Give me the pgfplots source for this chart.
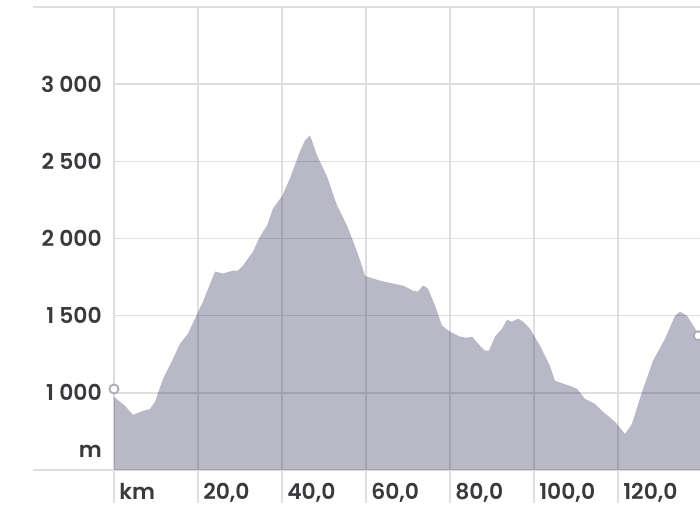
\documentclass[border=0pt]{standalone}
\usepackage{fontspec}
\setmainfont{Poppins SemiBold}
\usepackage{pgfplots}
\pgfplotsset{compat=1.18}
\definecolor{gridc}{RGB}{222,222,224}
\definecolor{prof}{RGB}{40,40,82}
\definecolor{lbl}{RGB}{58,58,62}
\definecolor{mk}{RGB}{172,172,184}
\begin{document}
\begin{tikzpicture}
\begin{axis}[scale only axis, width=439.5pt, height=347.25pt,
 xmin=0, xmax=139.52, ymin=500, ymax=3500,
 axis lines=left, axis line style={draw=none}, major tick length=0pt,
 grid=major, grid style={color=gridc, line width=1.1pt},
 xtick={0,20,40,60,80,100,120},
 xticklabels={km,{20,0},{40,0},{60,0},{80,0},{100,0},{120,0}},
 ytick={500,1000,1500,2000,2500,3000,3500},
 yticklabels={,1 000,1 500,2 000,2 500,3 000,},
 ticklabel style={font=\fontsize{16.4}{19}\selectfont, text=lbl},
 xticklabel style={anchor=base west, inner sep=0pt, xshift=3.75pt, yshift=-21.75pt},
 yticklabel style={anchor=east, inner sep=0pt, xshift=-9pt},
 clip mode=individual]
\addplot[draw=none, fill=prof, fill opacity=0.33] coordinates {
(0,974) (2.62,916) (4.52,857) (6.90,883) (8.57,896) (9.76,942) (11.67,1091)
(14.05,1221) (15.71,1318) (17.6,1383) (19.29,1481) (21.19,1591) (24.05,1786)
(25.95,1773) (28.33,1792) (29.52,1792) (30.71,1825) (33.10,1916) (34.76,2013)
(36.43,2084) (37.86,2195) (40.0,2273) (41.90,2390) (44.29,2565) (45.48,2636)
(46.67,2669) (48.33,2539) (50.71,2403) (53.10,2214) (55.48,2084) (57.86,1916)
(59.76,1760) (60.24,1753) (63.33,1727) (66.43,1708) (68.81,1695) (71.19,1662)
(72.38,1656) (73.57,1695) (74.76,1675) (76.43,1565) (78.10,1435) (80.0,1396)
(82.38,1364) (84.05,1357) (85.24,1364) (87.14,1305) (88.33,1273) (89.29,1273)
(90.71,1364) (92.38,1416) (93.57,1474) (94.76,1461) (96.19,1481) (97.38,1461)
(99.05,1416) (101.43,1305) (103.81,1175) (105.0,1078) (108.57,1045) (110.24,1026)
(112.14,961) (114.52,929) (116.43,877) (119.29,812) (121.67,734) (123.33,799)
(125.71,1006) (128.33,1208) (131.19,1351) (133.57,1500) (134.76,1526)
(136.43,1500) (138.81,1396) (139.52,1370)
} \closedcycle;
\addplot[only marks, mark=*, mark size=3.4pt, mark options={draw=mk, fill=white, line width=1.4pt}]
 coordinates {(0,1025) (139.1,1370)};
\foreach \yy in {500,3500}{
 \edef\tmp{\noexpand\draw[gridc, line width=1.1pt] (axis cs:0,\yy) -- ++(-60.75pt,0pt);}\tmp
}
\foreach \xx in {0,20,40,60,80,100,120}{
 \edef\tmp{\noexpand\draw[gridc, line width=1.1pt] (axis cs:\xx,500) -- ++(0pt,-24.75pt);}\tmp
}
\node[anchor=east, inner sep=0pt, xshift=-9pt, font=\fontsize{16.4}{19}\selectfont, text=lbl] at (axis cs:0,623) {m};
\end{axis}
\pgfresetboundingbox
\useasboundingbox (-85.5pt,-39pt) rectangle (439.5pt,352.5pt);
\end{tikzpicture}
\end{document}
